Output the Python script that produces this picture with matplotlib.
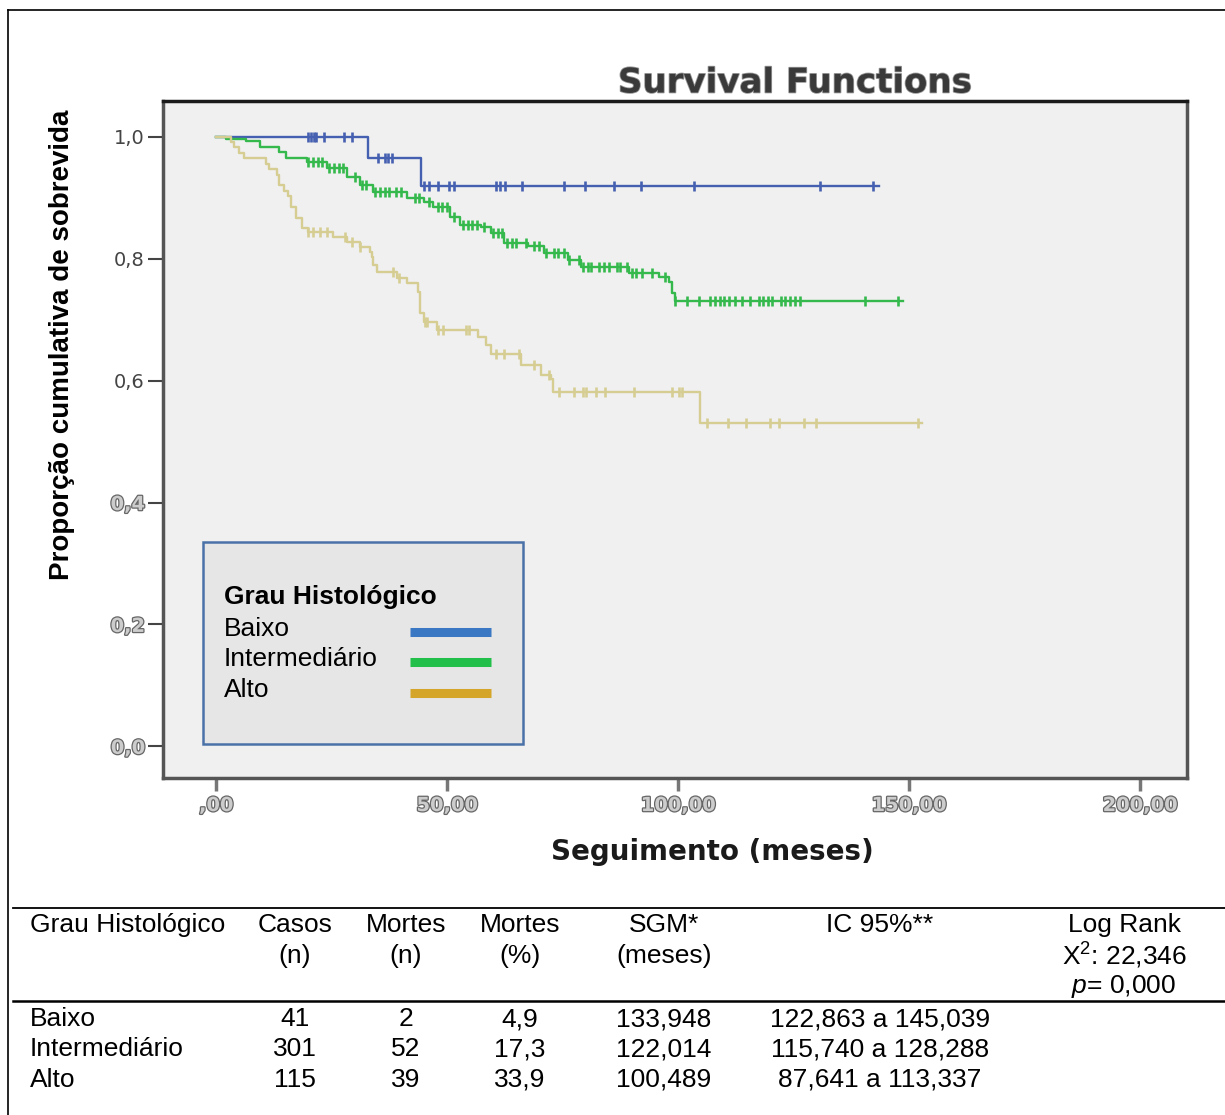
import numpy as np
import matplotlib
matplotlib.use("Agg")
import matplotlib.pyplot as plt
import matplotlib.patheffects as pe
from matplotlib.lines import Line2D
from matplotlib.patches import Rectangle

plt.rcParams['font.family'] = ['Liberation Sans', 'DejaVu Sans']
plt.rcParams['mathtext.fontset'] = 'custom'
plt.rcParams['mathtext.rm'] = 'Liberation Sans'
plt.rcParams['mathtext.it'] = 'Liberation Sans:italic'

# Kaplan-Meier steps: time of each drop (months) and the survival level after it
baixo_t = [32.9, 44.4]
baixo_s = [0.966, 0.920]
baixo_end = 143.5
baixo_cens = [20, 20.6, 21.2, 21.7, 23.3, 27.7, 29.4, 35, 36.5, 37.2, 38, 45, 46,
              48.1, 50.5, 51.4, 60.5, 61.5, 62.5, 66.2, 75.3, 79.9, 86.2, 91.9,
              103.4, 130.7, 142.2]

inter_t = [2.2, 6.5, 9.4, 13.7, 15.2, 19.6, 24.0, 28.3, 31.1, 34.0, 41.4, 44.9,
           47.0, 50.7, 52.9, 57.3, 59.5, 62.3, 67.5, 71.0, 76.2, 79.1, 89.3,
           95.8, 98.0, 98.6, 99.3]
inter_s = [0.997, 0.993, 0.983, 0.976, 0.966, 0.959, 0.949, 0.934, 0.921, 0.910,
           0.900, 0.893, 0.885, 0.869, 0.856, 0.852, 0.843, 0.826, 0.821, 0.810,
           0.798, 0.787, 0.777, 0.770, 0.762, 0.744, 0.730]
inter_end = 148.8
inter_cens = [20, 21, 22, 23, 24.5, 25.5, 26.5, 27.5, 30, 31.5, 32.5, 34.5, 35.5,
              36.5, 37.5, 39, 40, 43, 44, 46, 48, 49, 50, 51.5, 53.5, 54.5, 55.5,
              56.5, 58, 60, 61, 62, 63, 64, 65, 67, 68.8, 69.9, 71.5, 73.2, 74,
              75.3, 76.5, 78.6, 79.5, 80.6, 81.2, 83, 84, 85, 86.7, 87.5, 88.9,
              90, 91, 92.1, 94.3, 97.1, 99.3, 101.9, 104.5, 107, 108, 109, 110,
              111, 112.4, 113.9, 115.6, 117.6, 118.5, 119.5, 120.4, 122.2, 123.1,
              124.3, 125.4, 126.5, 140.5, 147.6]

alto_t = [3.3, 3.9, 5.0, 6.1, 10.9, 11.5, 13.1, 13.7, 14.8, 15.5, 16.3, 17.4,
          18.7, 19.8, 25.3, 28.3, 31.1, 33.3, 33.8, 34.0, 34.8, 39.2, 41.4, 43.8,
          44.2, 44.9, 47.9, 56.6, 58.4, 59.5, 66.0, 70.3, 72.5, 73.0, 104.8]
alto_s = [0.991, 0.983, 0.974, 0.965, 0.956, 0.947, 0.938, 0.921, 0.912, 0.903,
          0.885, 0.867, 0.851, 0.844, 0.836, 0.828, 0.820, 0.812, 0.803, 0.790,
          0.779, 0.769, 0.761, 0.746, 0.711, 0.697, 0.684, 0.672, 0.659, 0.643,
          0.626, 0.610, 0.602, 0.582, 0.530]
alto_end = 152.8
alto_cens = [20, 21, 22.5, 24, 28, 29.4, 31.1, 38.3, 39.5, 45.2, 45.7, 48, 49.2,
             54, 54.7, 60.5, 62.3, 65.5, 68.8, 72, 74.3, 77.5, 79.5, 80, 82.3,
             84.3, 90.4, 98.6, 100.2, 100.8, 106.3, 110.8, 114.8, 120, 121.9,
             127.2, 129.8, 152]

groups = ["Baixo", "Intermediário", "Alto"]
curve_colors = ["#4560b0", "#35b84c", "#d6cd93"]
legend_colors = ["#3b78c4", "#22c04b", "#d4a528"]

# summary table
casos = ["41", "301", "115"]
mortes_n = ["2", "52", "39"]
mortes_pct = ["4,9", "17,3", "33,9"]
sgm = ["133,948", "122,014", "100,489"]
ic95 = ["122,863 a 145,039", "115,740 a 128,288", "87,641 a 113,337"]

xticks = [0, 50, 100, 150, 200]
xticklabels = [",00", "50,00", "100,00", "150,00", "200,00"]
yticks = [0.0, 0.2, 0.4, 0.6, 0.8, 1.0]
yticklabels = ["0,0", "0,2", "0,4", "0,6", "0,8", "1,0"]


def km_steps(t, s, end):
    times = np.concatenate([[0.0], t, [end]])
    surv = np.concatenate([[1.0], s, [s[-1]]])
    return times, surv


def level_at(times, surv, x):
    idx = np.searchsorted(times, x, side='right') - 1
    return surv[idx]


W, H = 1225, 1115
fig = plt.figure(figsize=(W / 100, H / 100), dpi=100)
ax = fig.add_axes([163 / W, 1 - 778 / H, 1024 / W, 677 / H])
ax.set_facecolor("#f0f0f0")

series = [(baixo_t, baixo_s, baixo_end, baixo_cens),
          (inter_t, inter_s, inter_end, inter_cens),
          (alto_t, alto_s, alto_end, alto_cens)]
for (t, s, end, cens), col in zip(series, curve_colors):
    times, surv = km_steps(t, s, end)
    ax.step(times, surv, where='post', color=col, lw=1.7)
    cens = np.array(cens)
    ax.plot(cens, level_at(times, surv, cens), ls='none', marker='|',
            ms=7, mew=1.9, color=col)

ax.set_xlim(-11.5, 210.2)
ax.set_ylim(-0.052, 1.059)

outline = [pe.withStroke(linewidth=1.8, foreground="#666666")]
tick_font = dict(family='DejaVu Sans', size=14, weight='bold')
ax.set_xticks(xticks)
ax.set_xticklabels(xticklabels, fontdict=tick_font, color="#cccccc")
for lab in ax.get_xticklabels():
    lab.set_path_effects(outline)
ax.set_yticks(yticks)
ax.set_yticklabels(yticklabels, fontdict=dict(family='DejaVu Sans', size=14),
                   color="#444444")
for lab, v in zip(ax.get_yticklabels(), yticks):
    if v < 0.5:
        lab.set_color("#cccccc")
        lab.set_fontweight('bold')
        lab.set_path_effects(outline)
ax.tick_params(axis='y', direction='out', length=11, width=1.5, color="#444444", pad=2)
ax.tick_params(axis='x', direction='out', length=9, width=2.5, color="#777777", pad=4)

for side in ['left', 'bottom', 'right']:
    ax.spines[side].set_color("#555555")
    ax.spines[side].set_linewidth(2.5)
ax.spines['top'].set_color("#1a1a1a")
ax.spines['top'].set_linewidth(2.5)

# legend box drawn by hand inside the axes
ax.add_patch(Rectangle((0.0391, 0.0502), 0.3125, 0.2984, transform=ax.transAxes,
                       facecolor="#e6e6e6", edgecolor="#4a72a8", lw=1.8, zorder=5))
ax.text(0.0596, 0.2674, "Grau Histológico", transform=ax.transAxes, fontsize=19,
        fontweight='bold', va='center', zorder=6)
for i, (name, col) in enumerate(zip(groups, legend_colors)):
    yy = 0.2201 - i * 0.0450
    ax.text(0.0596, yy, name, transform=ax.transAxes, fontsize=19, va='center', zorder=6)
    ax.add_line(Line2D([0.2412, 0.3203], [yy - 0.0044, yy - 0.0044], transform=ax.transAxes,
                       color=col, lw=6.5, solid_capstyle='butt', zorder=6))

fig.text(795 / W, 1 - 83 / H, "Survival Functions", family='DejaVu Sans', fontsize=24.5,
         fontweight='bold', color="#3a3a3a", ha='center', va='center',
         path_effects=[pe.withStroke(linewidth=1.2, foreground="#999999")])
fig.text(62 / W, 1 - 345 / H, "Proporção cumulativa de sobrevida", rotation=90,
         fontsize=20, fontweight='bold', ha='center', va='center')
fig.text(712 / W, 1 - 852 / H, "Seguimento (meses)", family='DejaVu Sans', fontsize=20,
         fontweight='bold', color="#1a1a1a", ha='center', va='center')

# outer frame around the figure panel
fig.add_artist(Line2D([8 / W, 1], [1 - 10 / H, 1 - 10 / H], color='black', lw=1.2))
fig.add_artist(Line2D([8 / W, 8 / W], [0, 1 - 10 / H], color='black', lw=1.2))

# table below the chart
fig.add_artist(Line2D([13 / W, 1], [1 - 908 / H, 1 - 908 / H], color='black', lw=1.3))
fig.add_artist(Line2D([13 / W, 1], [1 - 1001 / H, 1 - 1001 / H], color='black', lw=1.8))

fs = 19
cols_x = [295, 406, 520, 664, 880]
header = [("Casos", "(n)"), ("Mortes", "(n)"), ("Mortes", "(%)"), ("SGM*", "(meses)"),
          ("IC 95%**", "")]
fig.text(30 / W, 1 - 925 / H, "Grau Histológico", fontsize=fs, va='center')
for x, (l1, l2) in zip(cols_x, header):
    fig.text(x / W, 1 - 925 / H, l1, fontsize=fs, ha='center', va='center')
    if l2:
        fig.text(x / W, 1 - 956 / H, l2, fontsize=fs, ha='center', va='center')
fig.text(1124 / W, 1 - 925 / H, "Log Rank", fontsize=fs, ha='center', va='center')
fig.text(1124 / W, 1 - 956 / H, r"X$^2$: 22,346", fontsize=fs, ha='center', va='center')
fig.text(1124 / W, 1 - 986 / H, r"$\it{p}$= 0,000", fontsize=fs, ha='center', va='center')

row_y = [1019, 1049, 1080]
for i, yy in enumerate(row_y):
    fig.text(30 / W, 1 - yy / H, groups[i], fontsize=fs, va='center')
    vals = [casos[i], mortes_n[i], mortes_pct[i], sgm[i], ic95[i]]
    for x, v in zip(cols_x, vals):
        fig.text(x / W, 1 - yy / H, v, fontsize=fs, ha='center', va='center')

fig.savefig("out.png", dpi=100, facecolor='white')
